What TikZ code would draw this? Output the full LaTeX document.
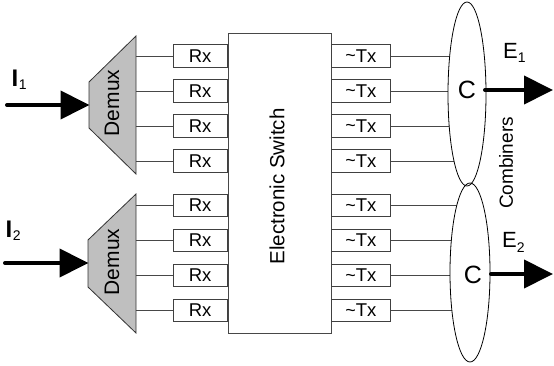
\documentclass[tikz,border=0pt]{standalone}
\usepackage{fontspec}
\setmainfont{Liberation Sans}
\usetikzlibrary{arrows.meta,shapes.geometric}
\newcommand{\fsz}[1]{\fontsize{#1}{#1}\selectfont}
\begin{document}
\begin{tikzpicture}[x=1pt,y=-1pt,
  conn/.style={draw=black!72, line width=0.8pt},
  rxbox/.style={draw=black!75, line width=0.8pt, minimum width=54pt, minimum height=22.5pt, inner sep=0pt, anchor=east, font=\fsz{18.5}},
  txbox/.style={draw=black!75, line width=0.8pt, minimum width=59pt, minimum height=22.5pt, inner sep=0pt, anchor=west, font=\fsz{18.5}},
  demux/.style={draw=black!80, fill=black!25, line width=0.8pt},
  comb/.style={ellipse, fill=white, inner sep=0pt},
  combline/.style={draw=black, line width=0.8pt},
  bigarrow/.style={line width=4pt, line cap=round, -{Triangle[length=29pt,width=28pt]}},
  lbl/.style={inner sep=0pt, anchor=base west},
  vtext/.style={rotate=90, inner sep=0pt}
]
\useasboundingbox (0,0) rectangle (554,366);

% Electronic switch
\node[draw=black!72, line width=0.8pt, minimum width=103pt, minimum height=300pt, inner sep=0pt] (sw) at (279.5,183) {};
\node[vtext, font=\fsz{20.5}] (swt) at (277,186.5) {Electronic Switch};

% Demux shapes
\draw[demux] (136,36) -- (136,174) -- (89,128) -- (89,82) -- cycle;
\draw[demux] (136,194) -- (136,333) -- (88,287) -- (88,240) -- cycle;
\coordinate (dm1) at (136,105);
\coordinate (dm2) at (136,263);
\coordinate (d1in) at (89.5,105);
\coordinate (d2in) at (88.5,263);
\node[vtext, font=\fsz{21}] (dmt1) at (112,103) {Demux};
\node[vtext, font=\fsz{21}] (dmt2) at (112,262) {Demux};

% Rx and Tx boxes
\foreach \i/\y in {1/56,2/91,3/126,4/161,5/205.5,6/240.5,7/275.5,8/310.5}{
  \node[rxbox] (rx\i) at (227.5,\y) {Rx};
  \node[txbox] (tx\i) at (331,\y) {\raisebox{0.5pt}{\fsz{18}\~{}}Tx};
}
\foreach \i in {1,2,3,4}{ \draw[conn] (rx\i.west) -- (rx\i.west -| dm1); }
\foreach \i in {5,6,7,8}{ \draw[conn] (rx\i.west) -- (rx\i.west -| dm2); }

% Combiners
\coordinate (e1c) at (467,94);
\coordinate (e2c) at (470,272.5);
\foreach \i in {1,2,3,4}{ \draw[conn] (tx\i.east) -- (tx\i.east -| e1c); }
\foreach \i in {5,6,7,8}{ \draw[conn] (tx\i.east) -- (tx\i.east -| e2c); }
\node[comb, minimum width=40pt, minimum height=179pt] (e2) at (e2c) {};
\node[comb, minimum width=38pt, minimum height=184pt] (e1) at (e1c) {};
\draw[combline] (e2.center) ellipse [x radius=20, y radius=89.5];
\draw[combline] (e1.center) ellipse [x radius=19, y radius=92];
\node[inner sep=0pt, font=\fsz{25}] (c1) at (467,90) {C};
\node[inner sep=0pt, font=\fsz{25}] (c2) at (473,275) {C};
\node[vtext, font=\fsz{19}] (combt) at (506,163) {Combiners};

% Input / output arrows
\coordinate (i1s) at (7,105);
\coordinate (i2s) at (5,263);
\draw[bigarrow] (i1s) -- (d1in);
\draw[bigarrow] (i2s) -- (d2in);
\coordinate (o1s) at (485,90);
\coordinate (o1e) at (553,90);
\coordinate (o2s) at (491,274);
\coordinate (o2e) at (553,274);
\draw[bigarrow] (o1s) -- (o1e);
\draw[bigarrow] (o2s) -- (o2e);

% Labels
\node[lbl] (li1) at (11.5,87) {\fsz{24}\bfseries I\kern0.5pt\raisebox{-2.5pt}{\fsz{14}\mdseries 1}};
\node[lbl] (li2) at (5.5,237.5) {\fsz{24}\bfseries I\kern0.5pt\raisebox{-2.5pt}{\fsz{14}\mdseries 2}};
\node[lbl] (le1) at (503,58.5) {\fsz{22}E\raisebox{-4.5pt}{\fsz{14}1}};
\node[lbl] (le2) at (502,247.5) {\fsz{22}E\raisebox{-4.5pt}{\fsz{14}2}};
\end{tikzpicture}
\end{document}
